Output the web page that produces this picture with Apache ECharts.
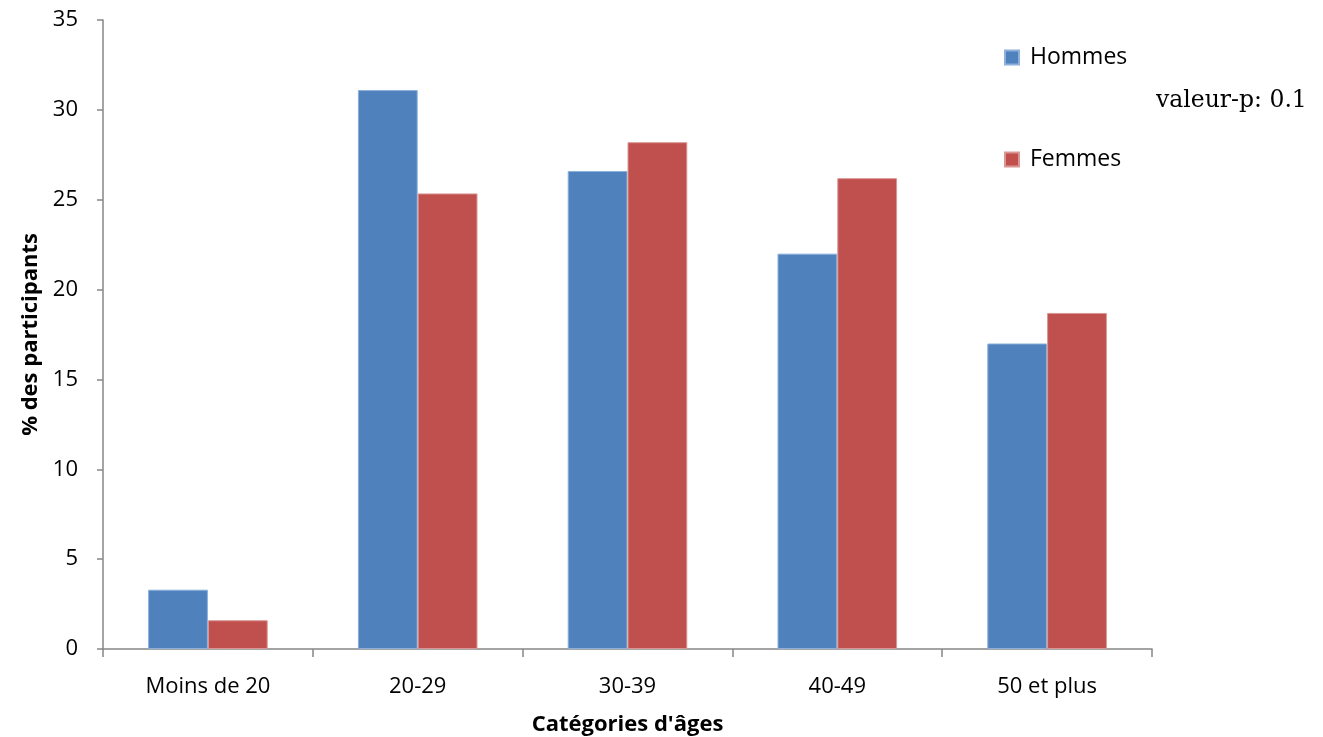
<!DOCTYPE html>
<html>
<head>
<meta charset="utf-8">
<script src="https://cdn.jsdelivr.net/npm/echarts@6/dist/echarts.min.js"></script>
<style>html,body{margin:0;padding:0;background:#fff}#c{width:1323px;height:737px}</style>
</head>
<body>
<div id="c"></div>
<script>
const categories = ['Moins de 20', '20-29', '30-39', '40-49', '50 et plus'];
const hommes = [3.3, 31.1, 26.6, 22.0, 17.0];
const femmes = [1.6, 25.35, 28.2, 26.2, 18.7];
const seriesNames = ['Hommes', 'Femmes'];
const yTitle = '% des participants';
const xTitle = "Catégories d'âges";
const note = 'valeur-p: 0.1';

const chart = echarts.init(document.getElementById('c'));
const font = '"Open Sans", Lato, sans-serif';
chart.setOption({
  animation: false,
  backgroundColor: '#fff',
  grid: {left: 103, right: 171, top: 20, bottom: 88, containLabel: false, outerBoundsMode: 'none'},
  legend: {
    orient: 'vertical',
    left: 999,
    top: 41,
    itemWidth: 14,
    itemHeight: 14,
    itemGap: 79,
    icon: 'rect',
    data: seriesNames,
    textStyle: {fontFamily: font, fontSize: 23, color: '#000', padding: [0, 0, 0, 6]}
  },
  graphic: [{
    type: 'text',
    left: 1156,
    top: 89,
    style: {text: note, font: '23.5px "DejaVu Serif", "Liberation Serif", serif', fill: '#000'}
  }],
  xAxis: {
    type: 'category',
    data: categories,
    name: xTitle,
    nameLocation: 'middle',
    nameGap: 65,
    nameTextStyle: {fontFamily: font, fontSize: 22, fontWeight: 'bold', color: '#000'},
    axisLine: {lineStyle: {color: '#868686', width: 1.5}},
    axisTick: {show: true, inside: false, length: 8, alignWithLabel: false, lineStyle: {color: '#868686', width: 1.5}},
    axisLabel: {fontFamily: font, fontSize: 22, color: '#000', margin: 27}
  },
  yAxis: {
    type: 'value',
    min: 0, max: 35, interval: 5,
    name: yTitle,
    nameLocation: 'middle',
    nameGap: 61,
    nameRotate: 90,
    nameTextStyle: {fontFamily: font, fontSize: 22, fontWeight: 'bold', color: '#000'},
    splitLine: {show: false},
    axisLine: {show: true, lineStyle: {color: '#868686', width: 1.5}},
    axisTick: {show: true, length: 6, lineStyle: {color: '#868686', width: 1.5}},
    axisLabel: {fontFamily: font, fontSize: 22, color: '#000', margin: 25}
  },
  series: [
    {name: seriesNames[0], type: 'bar', data: hommes, barGap: '0%', barCategoryGap: '43%',
     itemStyle: {color: '#4F81BD', borderColor: '#8DB0DC', borderWidth: 1}},
    {name: seriesNames[1], type: 'bar', data: femmes, barGap: '0%', barCategoryGap: '43%',
     itemStyle: {color: '#C0504D', borderColor: '#D99694', borderWidth: 1}}
  ]
});
</script>
</body>
</html>
